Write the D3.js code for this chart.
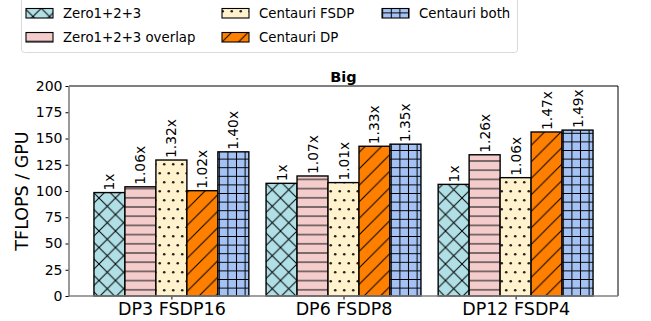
<!DOCTYPE html>
<html><head><meta charset="utf-8">
<script src="https://cdn.jsdelivr.net/npm/d3@7"></script>
<style>body{margin:0;background:#fff;} svg{display:block;font-family:"DejaVu Sans",sans-serif;}</style>
</head><body>
<svg id="chart" width="651" height="321"></svg>
<script>
const categories = ["DP3 FSDP16", "DP6 FSDP8", "DP12 FSDP4"];
const seriesNames = ["Zero1+2+3", "Zero1+2+3 overlap", "Centauri FSDP", "Centauri DP", "Centauri both"];
const zero = [98.5, 107.3, 106.3];
const zeroOverlap = [104, 114.3, 134.5];
const centauriFSDP = [129.5, 108, 112.7];
const centauriDP = [100.3, 142.6, 156.2];
const centauriBoth = [137.3, 144.6, 158];
const speedupLabels = [
  ["1x", "1x", "1x"],
  ["1.06x", "1.07x", "1.26x"],
  ["1.32x", "1.01x", "1.06x"],
  ["1.02x", "1.33x", "1.47x"],
  ["1.40x", "1.35x", "1.49x"]
];
const yTicks = [0, 25, 50, 75, 100, 125, 150, 175, 200];
const title = "Big";
const yLabel = "TFLOPS / GPU";

const series = [zero, zeroOverlap, centauriFSDP, centauriDP, centauriBoth];
const colors = ["#b0e0e6", "#f4cccc", "#fff2cc", "#ff8000", "#a4c2f4"];
const patternIds = ["pX", "pH", "pD", "pS", "pP"];

const svg = d3.select("#chart");
const defs = svg.append("defs");

function pat(id, size, color, draw) {
  const p = defs.append("pattern").attr("id", id).attr("patternUnits", "userSpaceOnUse")
    .attr("width", size).attr("height", size);
  p.append("rect").attr("width", size).attr("height", size).attr("fill", color);
  draw(p, size);
}
pat("pX", 16.5, colors[0], (p, s) => {
  p.append("path").attr("d", `M0,0L${s},${s}M${s},0L0,${s}M${-s/2},${s/2}L${s/2},${3*s/2}M${s/2},${-s/2}L${3*s/2},${s/2}`)
    .attr("stroke", "#000").attr("stroke-width", 1).attr("fill", "none");
});
pat("pH", 9.2, colors[1], (p, s) => {
  p.append("path").attr("d", `M0,${s/2}L${s},${s/2}`).attr("stroke", "#222").attr("stroke-width", 1.1);
});
pat("pD", 18, colors[2], (p, s) => {
  [[2.25, 2.25], [11.25, 2.25], [6.75, 11.25], [15.75, 11.25]].forEach(([cx, cy]) =>
    p.append("circle").attr("cx", cx).attr("cy", cy).attr("r", 1.3).attr("fill", "#222"));
});
pat("pS", 16.5, colors[3], (p, s) => {
  p.append("path").attr("d", `M0,${s}L${s},0M${-s/2},${s/2}L${s/2},${-s/2}M${s/2},${3*s/2}L${3*s/2},${s/2}`)
    .attr("stroke", "#000").attr("stroke-width", 1).attr("fill", "none");
});
pat("pP", 8.6, colors[4], (p, s) => {
  p.append("path").attr("d", `M0,${s/2}L${s},${s/2}M${s/2},0L${s/2},${s}`)
    .attr("stroke", "#000").attr("stroke-width", 1).attr("fill", "none");
});

const pL = 69, pR = 618, pT = 86, pB = 296;
const x = d3.scaleLinear().domain([-0.595, 2.595]).range([pL, pR]);
const y = d3.scaleLinear().domain([0, 200]).range([pB, pT]);
const bw = 0.18;

series.forEach((vals, si) => {
  const g = svg.append("g");
  vals.forEach((v, ci) => {
    const cx = ci + (si - 2) * bw;
    g.append("rect")
      .attr("x", x(cx - bw / 2)).attr("width", x(cx + bw / 2) - x(cx - bw / 2))
      .attr("y", y(v)).attr("height", y(0) - y(v))
      .attr("fill", `url(#${patternIds[si]})`).attr("stroke", "#000").attr("stroke-width", 1.4);
    const tx = x(cx), ty = y(v) - 2;
    g.append("text").attr("transform", `translate(${tx},${ty}) rotate(-90)`)
      .attr("dominant-baseline", "central").attr("text-anchor", "start")
      .attr("font-size", 13.8).attr("fill", "#000").text(speedupLabels[si][ci]);
  });
});

const yAxis = d3.axisLeft(y).tickValues(yTicks).tickSize(3.5).tickPadding(3);
const gy = svg.append("g").attr("transform", `translate(${pL},0)`).call(yAxis);
gy.select(".domain").remove();
gy.selectAll("text").attr("font-size", 14).attr("font-family", "DejaVu Sans").attr("fill", "#000");
gy.selectAll("line").attr("stroke", "#000");

const xAxis = d3.axisBottom(x).tickValues([0, 1, 2]).tickFormat((d) => categories[d]).tickSize(3.5).tickPadding(3);
const gx = svg.append("g").attr("transform", `translate(0,${pB})`).call(xAxis);
gx.select(".domain").remove();
gx.selectAll("text").attr("font-size", 17.5).attr("font-family", "DejaVu Sans").attr("fill", "#000");
gx.selectAll("line").attr("stroke", "#000");

svg.append("line").attr("x1", pL).attr("x2", pR).attr("y1", pT).attr("y2", pT).attr("stroke", "#000").attr("stroke-width", 1);
svg.append("line").attr("x1", pR).attr("x2", pR).attr("y1", pT).attr("y2", pB).attr("stroke", "#000").attr("stroke-width", 1);
svg.append("line").attr("x1", pL).attr("x2", pL).attr("y1", pT).attr("y2", pB + 0.75).attr("stroke", "#808080").attr("stroke-width", 1.6);
svg.append("line").attr("x1", pL).attr("x2", pR).attr("y1", pB).attr("y2", pB).attr("stroke", "#808080").attr("stroke-width", 1.6);

svg.append("text").attr("x", (pL + pR) / 2).attr("y", 81.5).attr("text-anchor", "middle")
  .attr("font-size", 14.5).attr("font-weight", "bold").text(title);

svg.append("text").attr("transform", `translate(28,${(pT + pB) / 2}) rotate(-90)`)
  .attr("text-anchor", "middle").attr("font-size", 17.5).text(yLabel);

const lg = svg.append("g");
lg.append("rect").attr("x", 21.5).attr("y", -5).attr("width", 496).attr("height", 57.5).attr("rx", 3)
  .attr("fill", "#fff").attr("stroke", "#d9d9d9").attr("stroke-width", 1);
const legendPos = [[26, 13], [26, 37], [222, 13], [222, 37], [382, 13]];
seriesNames.forEach((name, i) => {
  const [lx, ly] = legendPos[i];
  lg.append("rect").attr("x", lx).attr("y", ly - 4.5).attr("width", 27).attr("height", 9.5)
    .attr("fill", `url(#${patternIds[i]})`).attr("stroke", "#000").attr("stroke-width", 1.1);
  lg.append("text").attr("x", lx + 37).attr("y", ly).attr("dominant-baseline", "central")
    .attr("font-size", 13.3).text(name);
});
</script>
</body></html>
